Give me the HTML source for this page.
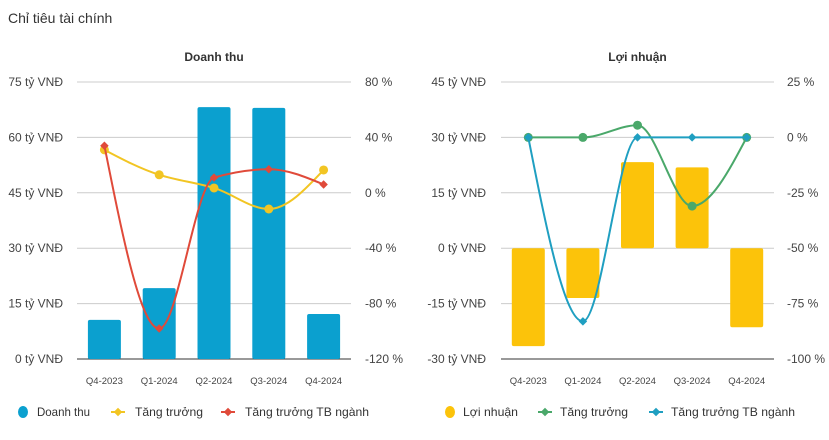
<!DOCTYPE html>
<html><head><meta charset="utf-8"><style>
body{margin:0;background:#fff;width:829px;height:435px;overflow:hidden;font-family:"Liberation Sans",sans-serif}
svg text{font-family:"Liberation Sans","Noto Sans CJK SC",sans-serif}
</style></head><body>
<svg id="s" width="829" height="435">
<text x="8" y="23" font-size="14" fill="#333">Chỉ tiêu tài chính</text>
</svg>
<script>
const categories=["Q4-2023","Q1-2024","Q2-2024","Q3-2024","Q4-2024"];
const revenue=[10.6,19.2,68.2,68.0,12.2];
const revGrowth=[31,13,3.5,-11.7,16.5];
const revIndustry=[34,-98,11,17,6];
const leftTicks1=[0,15,30,45,60,75];
const rightTicks1=[-120,-80,-40,0,40,80];
const profit=[-26.5,-13.5,23.3,21.9,-21.4];
const profGrowth=[0,0,5.5,-31,0];
const profIndustry=[0,-83,0,0,0];
const leftTicks2=[-30,-15,0,15,30,45];
const rightTicks2=[-100,-75,-50,-25,0,25];

const NS="http://www.w3.org/2000/svg";
const svg=document.getElementById('s');
function mk(tag,attrs,parent){const e=document.createElementNS(NS,tag);for(const k in attrs)e.setAttribute(k,attrs[k]);(parent||svg).appendChild(e);return e;}
function monotone(pts){
  const n=pts.length,dx=[],s=[],m=[];
  for(let i=0;i<n-1;i++){dx[i]=pts[i+1][0]-pts[i][0];s[i]=(pts[i+1][1]-pts[i][1])/dx[i];}
  for(let i=1;i<n-1;i++){if(s[i-1]*s[i]<=0)m[i]=0;else{m[i]=3*(dx[i-1]+dx[i])/((2*dx[i]+dx[i-1])/s[i-1]+(dx[i]+2*dx[i-1])/s[i]);}}
  m[0]=(3*s[0]-m[1])/2;m[n-1]=(3*s[n-2]-m[n-2])/2;
  let d="M"+pts[0][0]+","+pts[0][1];
  for(let i=0;i<n-1;i++){const h=dx[i]/3;d+=" C"+(pts[i][0]+h)+","+(pts[i][1]+m[i]*h)+" "+(pts[i+1][0]-h)+","+(pts[i+1][1]-m[i+1]*h)+" "+pts[i+1][0]+","+pts[i+1][1];}
  return d;}

function chart(o){
  const g=mk('g',{});
  
  
  const x0=o.x0,x1=o.x1,yT=82,yB=359;
  const lmin=o.lt[0],lmax=o.lt[o.lt.length-1],rmin=o.rt[0],rmax=o.rt[o.rt.length-1];
  const yl=v=>yB-(v-lmin)/(lmax-lmin)*(yB-yT);
  const yr=v=>yB-(v-rmin)/(rmax-rmin)*(yB-yT);
  const bw=(x1-x0)/categories.length;
  const xc=i=>x0+bw*(i+0.5);
  const t=mk('text',{x:(x0+x1)/2,y:61,'text-anchor':'middle','font-size':12,'font-weight':'bold',fill:'#333'},g);t.textContent=o.title;
  
  o.lt.forEach(v=>{const y=yl(v);const ln=mk('line',{x1:x0,x2:x1,y1:y,y2:y,stroke:v===lmin?'#333':'#ccc','stroke-width':1},g);
    
    const tx=mk('text',{x:o.lx,y:y+4,'text-anchor':'end','font-size':12,fill:'#444'},g);tx.textContent=v+' tỷ VNĐ';
    });
  o.rt.forEach(v=>{const tx=mk('text',{x:o.rx,y:yr(v)+4,'text-anchor':'start','font-size':12,fill:'#444'},g);tx.textContent=v+' %';
    });
  categories.forEach((c,i)=>{const tx=mk('text',{x:xc(i),y:384,'text-anchor':'middle','font-size':9.5,fill:'#444'},g);tx.textContent=c;
    });
  const z=yl(Math.max(0,lmin));
  o.bars.forEach((v,i)=>{const y=yl(v);const r=mk('rect',{x:xc(i)-16.5,width:33,y:Math.min(y,z),height:Math.abs(z-y),fill:o.bc,rx:2},g);
    });
  [[o.l1,o.c1,'circle'],[o.l2,o.c2,'diamond']].forEach(([arr,col,shape],k)=>{
    const pts=arr.map((v,i)=>[xc(i),yr(v)]);
    const p=mk('path',{d:monotone(pts),fill:'none',stroke:col,'stroke-width':2},g);
    
    pts.forEach(q=>{let m;if(shape==='circle')m=mk('circle',{cx:q[0],cy:q[1],r:4.5,fill:col},g);
      else m=mk('rect',{x:q[0]-3,y:q[1]-3,width:6,height:6,fill:col,transform:`rotate(45 ${q[0]} ${q[1]})`},g);
      });
  });
}
chart({name:'revenue-chart',title:'Doanh thu',x0:77,x1:351,lx:63,rx:365,lt:leftTicks1,rt:rightTicks1,bars:revenue,bc:'#0ba0cf',l1:revGrowth,c1:'#f2c523',l2:revIndustry,c2:'#e04a3a'});
chart({name:'profit-chart',title:'Lợi nhuận',x0:501,x1:774,lx:486,rx:787,lt:leftTicks2,rt:rightTicks2,bars:profit,bc:'#fcc30a',l1:profGrowth,c1:'#4aa86a',l2:profIndustry,c2:'#1f9fc1'});

const legend=[[23,'circle','#0ba0cf','Doanh thu',53,37],[118,'line','#f2c523','Tăng trưởng',68,135],[228,'line','#e04a3a','Tăng trưởng TB ngành',124,245],
 [450,'circle','#fcc30a','Lợi nhuận',55,463],[545,'line','#4aa86a','Tăng trưởng',68,560],[656,'line','#1f9fc1','Tăng trưởng TB ngành',124,671]];
legend.forEach(([x,t,c,l,w,tx0])=>{const g=mk('g',{});
  
  if(t==='circle'){mk('ellipse',{cx:x,cy:412,rx:5,ry:6,fill:c},g);}
  else{mk('line',{x1:x-7,x2:x+7,y1:412,y2:412,stroke:c,'stroke-width':2},g);mk('rect',{x:x-3,y:409,width:6,height:6,fill:c,transform:`rotate(45 ${x} 412)`},g);}
  const tx=mk('text',{x:tx0,y:416,'font-size':12,fill:'#333',textLength:w,lengthAdjust:'spacingAndGlyphs'},g);tx.textContent=l;});
</script>
</body></html>
